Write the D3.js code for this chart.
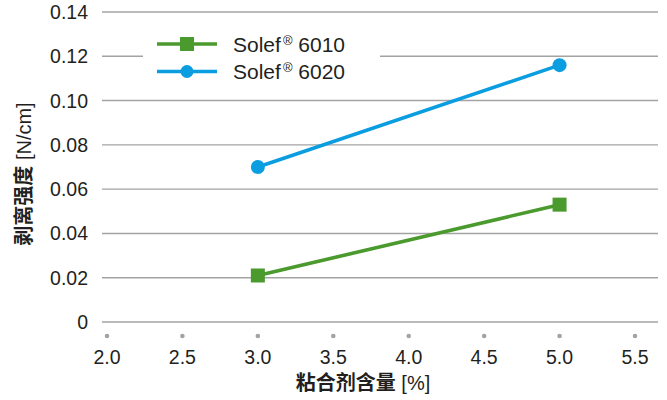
<!DOCTYPE html>
<html>
<head>
<meta charset="utf-8">
<script src="https://cdn.jsdelivr.net/npm/d3@7"></script>
<style>
  body { margin: 0; background: #fff; }
  text { font-family: "Liberation Sans", Arial, sans-serif; fill: #231f20; }
</style>
</head>
<body>
<svg id="chart" width="667" height="400"></svg>
<script>
// data
const xTicks = [2.0, 2.5, 3.0, 3.5, 4.0, 4.5, 5.0, 5.5];
const yTicks = [0, 0.02, 0.04, 0.06, 0.08, 0.10, 0.12, 0.14];
const content = [3.0, 5.0];
const solef6010 = [0.021, 0.053];
const solef6020 = [0.070, 0.116];
const seriesNames = ["6010", "6020"];
const colors = ["#4a9a2e", "#0a9de0"];

let svg = d3.select("svg#chart");

var x = d3.scaleLinear().domain([2.0, 5.5]).range([107, 635]);
var y = d3.scaleLinear().domain([0, 0.14]).range([322, 12]);

const gridLeft = 102, gridRight = 658;

// horizontal gridlines
svg.append("g")
  .selectAll("line")
  .data(yTicks)
  .enter()
  .append("line")
  .attr("x1", gridLeft)
  .attr("x2", gridRight)
  .attr("y1", d => y(d))
  .attr("y2", d => y(d))
  .attr("stroke", "#a3a3a3")
  .attr("stroke-width", 1.4);

// y tick labels
svg.append("g")
  .selectAll("text")
  .data(yTicks)
  .enter()
  .append("text")
  .attr("x", 88)
  .attr("y", d => y(d))
  .attr("dy", "0.36em")
  .attr("text-anchor", "end")
  .style("font-size", "19.5px")
  .text(d => d === 0 ? "0" : d3.format(".2f")(d));

// x axis: dots instead of tick lines
let xg = svg.append("g");
xg.selectAll("circle")
  .data(xTicks)
  .enter()
  .append("circle")
  .attr("cx", d => x(d))
  .attr("cy", 336)
  .attr("r", 2.3)
  .attr("fill", "#a3a3a3");
xg.selectAll("text")
  .data(xTicks)
  .enter()
  .append("text")
  .attr("x", d => x(d))
  .attr("y", 364)
  .attr("text-anchor", "middle")
  .style("font-size", "19.5px")
  .text(d => d3.format(".1f")(d));

// axis titles: CJK part bold, unit part regular
function axisTitle(sel, cjk, unit) {
  sel.append("tspan")
    .style("font-weight", "bold")
    .style("font-family", "'Noto Sans CJK SC', sans-serif")
    .text(cjk);
  sel.append("tspan")
    .text(" " + unit);
}

svg.append("text")
  .attr("x", 363)
  .attr("y", 390)
  .attr("text-anchor", "middle")
  .style("font-size", "20px")
  .call(axisTitle, "粘合剂含量", "[%]");

svg.append("text")
  .attr("transform", "translate(31,174) rotate(-90)")
  .attr("text-anchor", "middle")
  .style("font-size", "20px")
  .call(axisTitle, "剥离强度", "[N/cm]");

// lines
var line = d3.line()
  .x(d => x(d[0]))
  .y(d => y(d[1]));

const series = [solef6010, solef6020].map(vals => content.map((c, i) => [c, vals[i]]));

series.forEach((pts, i) => {
  svg.append("path")
    .datum(pts)
    .attr("d", line)
    .attr("fill", "none")
    .attr("stroke", colors[i])
    .attr("stroke-width", 3.6);
});

// markers
svg.append("g")
  .selectAll("rect")
  .data(series[0])
  .enter()
  .append("rect")
  .attr("x", d => x(d[0]) - 7)
  .attr("y", d => y(d[1]) - 7)
  .attr("width", 14)
  .attr("height", 14)
  .attr("fill", colors[0]);

svg.append("g")
  .selectAll("circle")
  .data(series[1])
  .enter()
  .append("circle")
  .attr("cx", d => x(d[0]))
  .attr("cy", d => y(d[1]))
  .attr("r", 7)
  .attr("fill", colors[1]);

// legend with white box over the gridline
let legend = svg.append("g");
legend.append("rect")
  .attr("x", 143)
  .attr("y", 28)
  .attr("width", 237)
  .attr("height", 58)
  .attr("fill", "#fff");

seriesNames.forEach((name, i) => {
  let ly = 44 + i * 27.5;
  legend.append("line")
    .attr("x1", 157).attr("x2", 217)
    .attr("y1", ly).attr("y2", ly)
    .attr("stroke", colors[i])
    .attr("stroke-width", 3.6);
  if (i === 0) {
    legend.append("rect")
      .attr("x", 180).attr("y", ly - 7)
      .attr("width", 14).attr("height", 14)
      .attr("fill", colors[i]);
  } else {
    legend.append("circle")
      .attr("cx", 187).attr("cy", ly)
      .attr("r", 6.5)
      .attr("fill", colors[i]);
  }
  let t = legend.append("text")
    .attr("x", 233)
    .attr("y", ly + 7.5)
    .style("font-size", "21px");
  t.append("tspan").text("Solef");
  t.append("tspan").attr("dx", "2px").attr("dy", "-7px").style("font-size", "13px").text("®");
  t.append("tspan").attr("dy", "7px").text(" " + name);
});
</script>
</body>
</html>
